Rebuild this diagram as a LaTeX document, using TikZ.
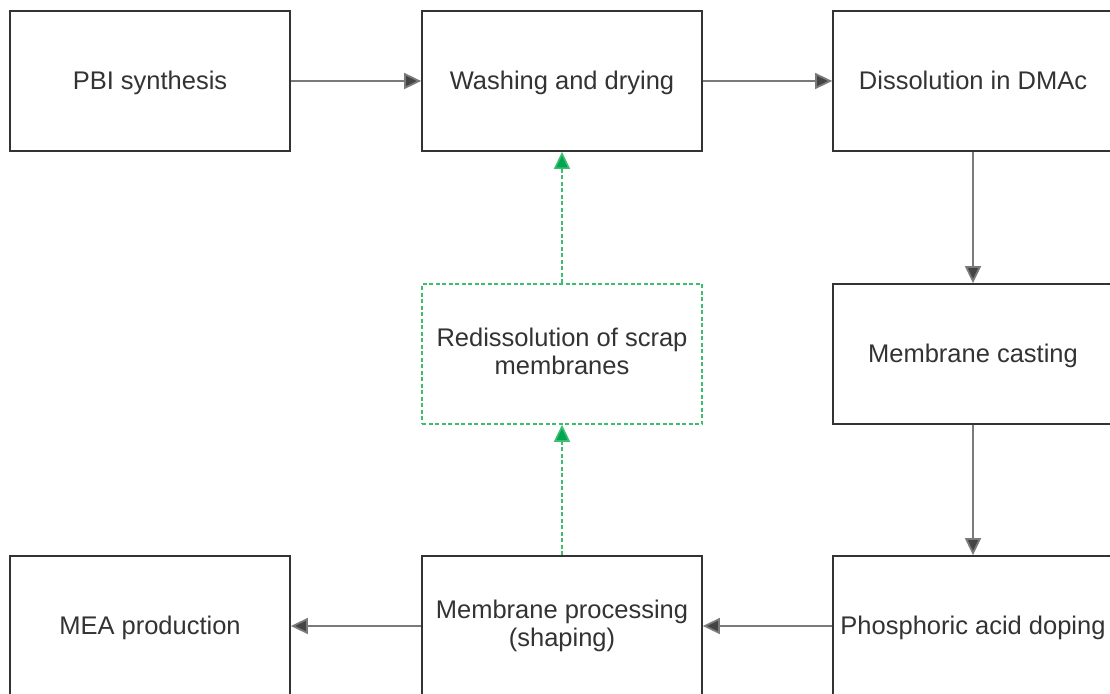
\documentclass[tikz,border=0pt]{standalone}
\usepackage{fontspec}
\setmainfont{Liberation Sans}
\usepackage{tikz}
\usetikzlibrary{arrows.meta,positioning}
\definecolor{boxline}{HTML}{333333}
\definecolor{flowline}{HTML}{7A7A7A}
\definecolor{tipgray}{HTML}{444444}
\definecolor{recyc}{HTML}{00A651}
\definecolor{recycl}{HTML}{3CBE6E}
\newcommand{\boxstrut}{\rule[-0.21em]{0pt}{1.11em}}

\begin{document}
\begin{tikzpicture}[x=1pt,y=-1pt,
  stepbox/.style={draw=boxline,line width=1.8pt,minimum width=280pt,minimum height=140pt,
    align=center,font=\fontsize{25.5}{28}\selectfont,text=black!80,
    execute at begin node=\boxstrut,execute at end node=\boxstrut},
  scrapbox/.style={stepbox,draw=recycl,dash pattern=on 4pt off 2.5pt,line width=1.6pt},
  flow/.style={draw=flowline,line width=1.8pt,-{Triangle[length=17pt,width=16pt,fill=tipgray]}},
  back/.style={draw=recycl,line width=1.6pt,dash pattern=on 4pt off 2.5pt,-{Triangle[length=17pt,width=16pt,fill=recyc]}}]
  \useasboundingbox (0,0) rectangle (1110,693);
  \clip (0,0) rectangle (1110,693);
  \fill[white] (0,0) rectangle (1110,693);
  \node[stepbox] (pbi) at (150,81) {PBI synthesis};
  \node[stepbox] (wash) at (562,81) {Washing and drying};
  \node[stepbox] (dmac) at (973,81) {Dissolution in DMAc};
  \node[stepbox] (cast) at (973,354) {Membrane casting};
  \node[scrapbox] (scrap) at (562,354) {Redissolution of scrap\\membranes};
  \node[stepbox] (dope) at (973,626) {Phosphoric acid doping};
  \node[stepbox] (shape) at (562,626) {Membrane processing\\(shaping)};
  \node[stepbox] (mea) at (150,626) {MEA production};
  \draw[flow] (pbi) -- (wash);
  \draw[flow] (wash) -- (dmac);
  \draw[flow] (dmac) -- (cast);
  \draw[flow] (cast) -- (dope);
  \draw[flow] (dope) -- (shape);
  \draw[flow] (shape) -- (mea);
  \draw[back] (shape) -- (scrap);
  \draw[back] (scrap) -- (wash);
\end{tikzpicture}
\end{document}
